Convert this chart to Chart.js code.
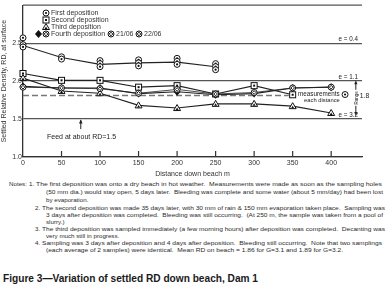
<!DOCTYPE html>
<html><head><meta charset="utf-8">
<script src="https://cdn.jsdelivr.net/npm/chart.js@4/dist/chart.umd.min.js"></script>
<style>
html,body{margin:0;padding:0;background:#fff;width:388px;height:292px;overflow:hidden;}
#wrap{position:relative;width:388px;height:292px;}
#c{position:absolute;left:0;top:0;}
.t{position:absolute;white-space:pre;font-family:"Liberation Sans",Arial,sans-serif;font-size:6.2px;color:#2a2a2a;line-height:7px;transform-origin:0 50%;}
.fig{font-weight:bold;font-size:10.5px;color:#1a1a1a;line-height:12px;}
</style></head><body>
<div id="wrap"><canvas id="c" width="388" height="178"></canvas><div id="notes"></div></div>
<script>
// ---- data ----
const distances = [0,50,100,150,200,250,300,350,400];
const firstDist = [0,50,100,150,200,250];
const firstMean = [2.47,2.31,2.22,2.24,2.25,2.19];
const firstSamples = [[2.57,2.48,2.45],[2.32,2.29],[2.27,2.23,2.19],[2.28,2.24,2.20],[2.30,2.26,2.22],[2.23,2.19,2.15]];
const secondDist = [0,50,100,150,200,250,300,350];
const second = [2.10,2.01,2.01,1.92,1.94,1.83,1.94,1.82];
const third = [2.04,1.87,1.84,1.68,1.645,1.70,1.70,1.67,1.58];
const fourth21 = [1.93,1.91,1.91,1.835,1.86,1.82,1.835,1.91,1.92];
const fourth22 = [1.92,1.91,1.90,1.84,1.89,1.83,1.85,1.91,1.92];
const xTicks = [0,50,100,150,200,250,300,350,400];
const yTicks = [1.0,1.5,2.0,2.5];
const voidRatioLines = [{rd:2.5,label:'e = 0.4'},{rd:2.0,label:'e = 1.1'},{rd:1.5,label:'e = 3.2'}];
const meanRD = 1.81;
const feedRD = 1.5;

const FONT = '"Liberation Sans", Arial, sans-serif';
const INK = '#222';

function mark(ctx, type, x, y){
  ctx.save(); ctx.lineWidth=1; ctx.strokeStyle='#111'; ctx.fillStyle='#fff';
  if(type==='circ'){ ctx.beginPath(); ctx.arc(x,y,3,0,Math.PI*2); ctx.fill(); ctx.stroke(); ctx.fillStyle='#111'; ctx.beginPath(); ctx.arc(x,y,1.1,0,Math.PI*2); ctx.fill(); }
  else if(type==='sq'){ ctx.fillRect(x-3,y-3,6,6); ctx.strokeRect(x-3,y-3,6,6); ctx.fillStyle='#111'; ctx.fillRect(x-1,y-1,2,2); }
  else if(type==='tri'){ ctx.beginPath(); ctx.moveTo(x,y-3.5); ctx.lineTo(x+3.5,y+2.5); ctx.lineTo(x-3.5,y+2.5); ctx.closePath(); ctx.fill(); ctx.stroke(); ctx.fillStyle='#111'; ctx.beginPath(); ctx.moveTo(x,y-0.5); ctx.lineTo(x+1.5,y+2); ctx.lineTo(x-1.5,y+2); ctx.closePath(); ctx.fill(); }
  else if(type==='dia'){ ctx.fillStyle='#111'; ctx.beginPath(); ctx.moveTo(x,y-4); ctx.lineTo(x+3.5,y); ctx.lineTo(x,y+4); ctx.lineTo(x-3.5,y); ctx.closePath(); ctx.fill(); }
  else if(type==='cdia'){ ctx.beginPath(); ctx.arc(x,y,3,0,Math.PI*2); ctx.fill(); ctx.stroke(); ctx.beginPath(); ctx.moveTo(x,y-1.8); ctx.lineTo(x+1.8,y); ctx.lineTo(x,y+1.8); ctx.lineTo(x-1.8,y); ctx.closePath(); ctx.stroke(); }
  ctx.restore();
}

const pts = (xs, ys) => ys.map((v,i)=>({x:xs[i], y:v}));
const firstPts = [];
firstSamples.forEach((arr,i)=>arr.forEach(v=>firstPts.push({x:firstDist[i], y:v})));

const lineBase = {type:'line', borderColor:INK, borderWidth:1.1, tension:0, fill:false, pointRadius:0};

const annot = {
  id:'annot',
  beforeDatasetsDraw(chart){
    const ctx=chart.ctx, xs=chart.scales.x, ys=chart.scales.y, a=chart.chartArea;
    ctx.save();
    ctx.strokeStyle='#555'; ctx.lineWidth=1.3;
    const yTop = ys.getPixelForValue(3);
    ctx.beginPath(); ctx.moveTo(a.left, yTop); ctx.lineTo(a.right, yTop); ctx.stroke();
    ctx.strokeStyle='#777'; ctx.lineWidth=1.6; ctx.setLineDash([6,3]);
    const yM = ys.getPixelForValue(meanRD);
    ctx.beginPath(); ctx.moveTo(xs.getPixelForValue(0), yM); ctx.lineTo(xs.getPixelForValue(345), yM); ctx.stroke();
    ctx.restore();
  },
  afterDatasetsDraw(chart){
    const ctx=chart.ctx;
    chart.data.datasets.forEach((ds,i)=>{
      if(!ds.marker) return;
      chart.getDatasetMeta(i).data.forEach(el=>mark(ctx, ds.marker, el.x, el.y));
    });
  },
  afterDraw(chart){
    const ctx=chart.ctx, xs=chart.scales.x, ys=chart.scales.y, a=chart.chartArea;
    const Y = v=>ys.getPixelForValue(v);
    ctx.save();
    ctx.fillStyle=INK; ctx.strokeStyle=INK;
    ctx.font='6.3px '+FONT; ctx.textAlign='right'; ctx.textBaseline='bottom';
    voidRatioLines.forEach(l=>ctx.fillText(l.label, a.right-4, Y(l.rd)-1));
    ctx.lineWidth=1.2; ctx.strokeStyle='#333';
    xTicks.forEach(v=>{ if(v===0) return; const px=xs.getPixelForValue(v); ctx.beginPath(); ctx.moveTo(px,a.bottom); ctx.lineTo(px,a.bottom-6); ctx.stroke(); });
    ctx.lineWidth=1; ctx.strokeStyle=INK;
    const fx = xs.getPixelForValue(75), fy=Y(feedRD);
    ctx.beginPath(); ctx.moveTo(fx, fy+10); ctx.lineTo(fx, fy+1); ctx.stroke();
    ctx.beginPath(); ctx.moveTo(fx,fy+0.5); ctx.lineTo(fx-1.8,fy+4.5); ctx.lineTo(fx+1.8,fy+4.5); ctx.closePath(); ctx.fill();
    ctx.font='7px '+FONT; ctx.textAlign='center'; ctx.textBaseline='middle';
    ctx.fillText('Feed at about RD=1.5', xs.getPixelForValue(76), Y(1.26));
    ctx.font='6.3px '+FONT; ctx.textAlign='left';
    const mx = xs.getPixelForValue(357);
    ctx.fillText('measurements', mx, Y(meanRD)-1);
    mark(ctx,'circ', mx+47, Y(meanRD)-1);
    ctx.font='5.8px '+FONT; ctx.fillStyle=INK;
    ctx.fillText('each distance', mx+6, Y(meanRD)+5);
    const rx = xs.getPixelForValue(432), rt=Y(2.01), rb=Y(1.54);
    ctx.beginPath(); ctx.moveTo(rx, rt+3); ctx.lineTo(rx, rb-3); ctx.stroke();
    ctx.beginPath(); ctx.moveTo(rx,rt); ctx.lineTo(rx-1.6,rt+4); ctx.lineTo(rx+1.6,rt+4); ctx.closePath(); ctx.fill();
    ctx.beginPath(); ctx.moveTo(rx,rb); ctx.lineTo(rx-1.6,rb-4); ctx.lineTo(rx+1.6,rb-4); ctx.closePath(); ctx.fill();
    ctx.save(); ctx.translate(rx, Y(1.78)); ctx.rotate(-Math.PI/2);
    ctx.fillStyle='#fff'; ctx.fillRect(-8,-2.5,16,5);
    ctx.fillStyle=INK; ctx.font='4.5px '+FONT; ctx.textAlign='center'; ctx.fillText('Range',0,0.5); ctx.restore();
    ctx.font='6.8px '+FONT; ctx.textAlign='left';
    ctx.fillText('1.8', rx+4, Y(1.8));
    ctx.font='7px '+FONT; ctx.textAlign='left'; ctx.textBaseline='middle'; ctx.fillStyle='#333';
    const leg=[['circ','First deposition',13],['sq','Second deposition',20],['tri','Third deposition',27]];
    leg.forEach(r=>{ mark(ctx, r[0], 46, r[2]); ctx.fillText(r[1], 51, r[2]); });
    mark(ctx,'dia',38.5,34); mark(ctx,'cdia',46,34); ctx.fillText('Fourth deposition', 51, 34);
    mark(ctx,'cdia',111,34); ctx.fillText('21/06', 116, 34);
    mark(ctx,'cdia',139,34); ctx.fillText('22/06', 144, 34);
    ctx.restore();
  }
};

new Chart(document.getElementById('c'), {
  data:{datasets:[
    Object.assign({}, lineBase, {label:'First deposition', data:pts(firstDist, firstMean)}),
    {type:'scatter', label:'First samples', data:firstPts, pointRadius:0, marker:'circ'},
    Object.assign({}, lineBase, {label:'Second deposition', data:pts(secondDist, second), marker:'sq'}),
    Object.assign({}, lineBase, {label:'Third deposition', data:pts(distances, third), marker:'tri'}),
    Object.assign({}, lineBase, {label:'Fourth deposition 21/06', data:pts(distances, fourth21), marker:'dia'}),
    Object.assign({}, lineBase, {label:'Fourth deposition 22/06', data:pts(distances, fourth22), marker:'cdia', borderWidth:0.8})
  ]},
  options:{
    responsive:false, animation:false, devicePixelRatio:1,
    layout:{padding:{top:3,right:26,left:0,bottom:0}},
    plugins:{legend:{display:false}, tooltip:{enabled:false}},
    scales:{
      x:{type:'linear', min:0, max:440,
        afterBuildTicks:s=>{s.ticks=xTicks.map(v=>({value:v}));},
        afterFit:s=>{s.height=21;},
        grid:{display:false, drawTicks:false, tickLength:0},
        border:{display:true, color:'#333', width:1.3},
        ticks:{font:{size:7, family:FONT}, color:'#333', padding:2, maxRotation:0, autoSkip:false},
        title:{display:true, text:'Distance down beach m', font:{size:7, family:FONT}, color:'#333', padding:{top:1,bottom:0}}
      },
      y:{type:'linear', min:1, max:3,
        afterBuildTicks:s=>{s.ticks=yTicks.map(v=>({value:v}));},
        afterFit:s=>{s.width=23;},
        grid:{color:'#555', lineWidth:1.3, drawTicks:false, tickLength:0},
        border:{display:true, color:'#333', width:1.3},
        ticks:{font:{size:7, family:FONT}, color:'#333', padding:1, callback:v=>v.toFixed(1)},
        title:{display:true, text:'Settled Relative Density, RD, at surface', font:{size:7, family:FONT}, color:'#333', padding:{top:0,bottom:0}}
      }
    }
  },
  plugins:[annot]
});

const notes = [
  {t:'Notes:', x:9, y:183},
  {t:'1.', x:29, y:183},
  {t:'The first deposition was onto a dry beach in hot weather.  Measurements were made as soon as the sampling holes', x:36, y:183, w:346},
  {t:'(50 mm dia.) would stay open, 5 days later.  Bleeding was complete and some water (about 5 mm/day) had been lost', x:46, y:191, w:337},
  {t:'by evaporation.', x:46, y:199},
  {t:'2.', x:35, y:207},
  {t:'The second deposition was made 35 days later, with 30 mm of rain & 150 mm evaporation taken place.  Sampling was', x:42, y:207, w:343},
  {t:'3 days after deposition was completed.  Bleeding was still occurring.  (At 250 m, the sample was taken from a pool of', x:46, y:214, w:337},
  {t:'slurry.)', x:46, y:221},
  {t:'3.', x:35, y:228},
  {t:'The third deposition was sampled immediately (a few morning hours) after deposition was completed.  Decanting was', x:42, y:228, w:343},
  {t:'very much still in progress.', x:46, y:235},
  {t:'4.', x:35, y:242},
  {t:'Sampling was 3 days after deposition and 4 days after deposition.  Bleeding still occurring.  Note that two samplings', x:42, y:242, w:340},
  {t:'(each average of 2 samples) were identical.  Mean RD on beach = 1.86 for G=3.1 and 1.89 for G=3.2.', x:46, y:249, w:297},
  {t:'Figure 3\u2014Variation of settled RD down beach, Dam 1', x:3, y:278, w:255, cls:'fig'}
];
const nd = document.getElementById('notes');
notes.forEach(n=>{
  const d=document.createElement('div'); d.className='t'+(n.cls?' '+n.cls:''); d.textContent=n.t;
  const lh = n.cls ? 12 : 7;
  d.style.left=n.x+'px'; d.style.top=(n.y-lh/2)+'px';
  nd.appendChild(d);
  if(n.w){ const w=d.getBoundingClientRect().width; if(w>0) d.style.transform='scaleX('+(n.w/w)+')'; }
});
</script>
</body></html>
